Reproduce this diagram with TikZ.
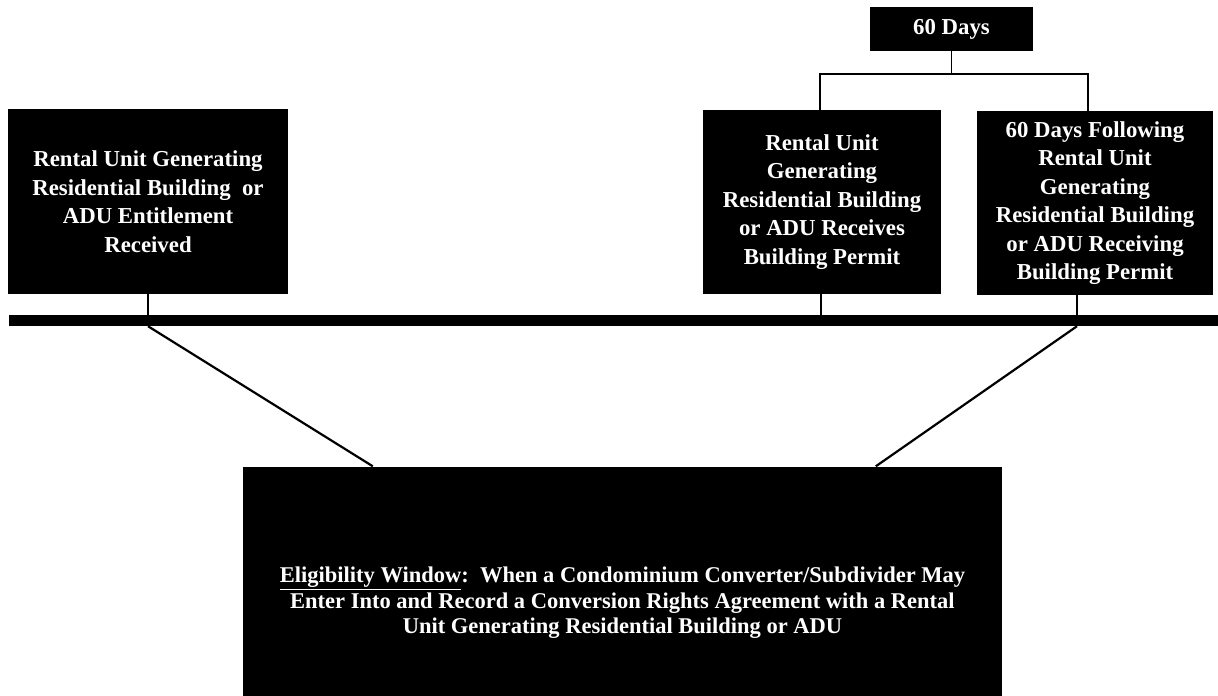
\documentclass[tikz,border=0pt]{standalone}
\usepackage{fontspec}
\setmainfont{Liberation Serif}
\usetikzlibrary{calc}

\begin{document}
\begin{tikzpicture}[x=1pt,y=-1pt,
    darkbox/.style={fill=black,text=white,font=\bfseries\fontsize{22.8}{28.5}\selectfont,align=center,inner sep=0pt},
    stem/.style={line width=1.8pt}]
  \useasboundingbox (0,0) rectangle (1218,696);
  % boxes on top of the time line
  \node[darkbox,minimum width=163,minimum height=44] (days60) at (951.5,29) {60 Days};
  \node[darkbox,minimum width=280,minimum height=185] (entitle) at (148,201.5)
    {Rental Unit Generating\\Residential Building~~or\\ADU Entitlement\\Received};
  \node[darkbox,minimum width=238,minimum height=184] (permit) at (822,202)
    {Rental Unit\\Generating\\Residential Building\\or ADU Receives\\Building Permit};
  \node[darkbox,minimum width=236,minimum height=184] (following) at (1095,203)
    {60 Days Following\\Rental Unit\\Generating\\Residential Building\\or ADU Receiving\\Building Permit};
  % time line
  \node[fill=black,minimum width=1212,minimum height=11,inner sep=0pt] (timeline) at (615,320.5) {};
  % eligibility window
  \node[darkbox,font=\bfseries\fontsize{22.5}{25.5}\selectfont,minimum width=759,minimum height=273] (window) at (622.5,603)
    {\underline{Eligibility Window}:~~When a Condominium Converter/Subdivider May\\
     Enter Into and Record a Conversion Rights Agreement with a Rental\\
     Unit Generating Residential Building or ADU};
  \coordinate (winleft) at ($(window.north west)+(130,0)$);
  \coordinate (winright) at ($(window.north west)+(633,0)$);
  % connectors
  \draw[stem] (days60.south) -- ++(0,23) -| ([xshift=-2]permit.north);
  \draw[stem] (days60.south) -- ++(0,23) -| ([xshift=-7]following.north);
  \draw[stem] (entitle.south) -- (entitle.south |- timeline.north);
  \draw[stem] ([xshift=-1]permit.south) -- ([xshift=-1]permit.south |- timeline.north);
  \draw[stem] ([xshift=-18]following.south) -- ([xshift=-18]following.south |- timeline.north);
  \draw[stem,line width=2.2pt] (entitle.south |- timeline.south) -- (winleft);
  \draw[stem,line width=2.2pt] ([xshift=-18]following.south |- timeline.south) -- (winright);
\end{tikzpicture}
\end{document}
